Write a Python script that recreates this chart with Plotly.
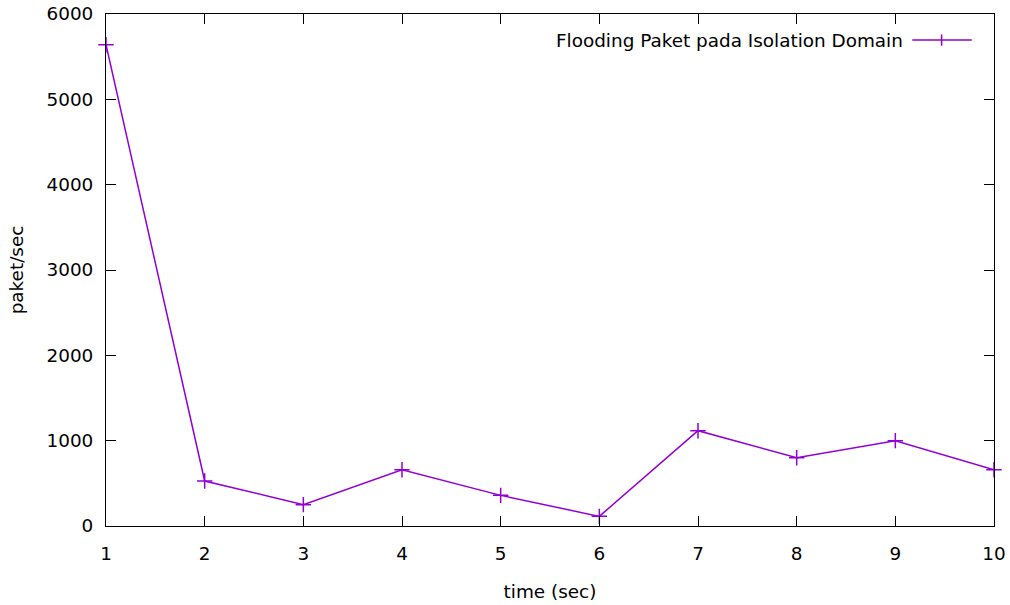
import plotly.graph_objects as go

time_sec = [1, 2, 3, 4, 5, 6, 7, 8, 9, 10]
paket_per_sec = [5640, 527, 250, 660, 359, 113, 1117, 800, 1000, 660]
series_name = "Flooding Paket pada Isolation Domain"
x_ticks = [1, 2, 3, 4, 5, 6, 7, 8, 9, 10]
y_ticks = [0, 1000, 2000, 3000, 4000, 5000, 6000]

COLOR = "#9400D3"
FONT = "DejaVu Sans"
FS = 18.4

fig = go.Figure()
fig.add_trace(go.Scatter(
    x=time_sec, y=paket_per_sec, mode="lines+markers", name=series_name,
    line=dict(color=COLOR, width=1.5),
    marker=dict(symbol="cross-thin", size=11, line=dict(color=COLOR, width=1.5)),
    showlegend=False, cliponaxis=False,
))

# gnuplot-style key: text then sample on the right
KEY_Y = 0.949
fig.add_annotation(xref="paper", yref="paper", x=0.9, y=KEY_Y,
                   xanchor="right", yanchor="middle", showarrow=False,
                   text=series_name, font=dict(family=FONT, size=FS, color="#000"))
fig.add_shape(type="line", xref="paper", yref="paper", x0=0.908, x1=0.975,
              y0=KEY_Y, y1=KEY_Y, line=dict(color=COLOR, width=1.5))
fig.add_shape(type="line", xref="paper", yref="paper", x0=0.941, x1=0.941,
              y0=KEY_Y - 0.011, y1=KEY_Y + 0.011, line=dict(color=COLOR, width=1.5))

axis_common = dict(showgrid=False, zeroline=False, showline=True, linecolor="#000",
                   linewidth=1, mirror="ticks", ticks="inside", ticklen=10,
                   tickcolor="#000", tickwidth=1, automargin=False,
                   ticklabeloverflow="allow",
                   tickfont=dict(family=FONT, size=FS, color="#000"))

fig.update_xaxes(range=[1, 10], tickvals=x_ticks, ticktext=[str(v) for v in x_ticks],
                 title=dict(text="time (sec)", font=dict(family=FONT, size=FS, color="#000"), standoff=22),
                 ticklabelstandoff=11, **axis_common)
fig.update_yaxes(range=[0, 6000], tickvals=y_ticks, ticktext=[str(v) for v in y_ticks],
                 title=dict(text="paket/sec", font=dict(family=FONT, size=FS, color="#000"), standoff=18),
                 ticklabelstandoff=8, **axis_common)

fig.update_layout(width=1010, height=605, plot_bgcolor="white", paper_bgcolor="white",
                  margin=dict(l=106, r=16, t=14, b=79), showlegend=False,
                  font=dict(family=FONT, size=FS, color="#000"))

fig.write_html("out.html", config={"displayModeBar": False},
               post_script="document.body.style.margin='0';document.body.style.overflow='hidden';")
